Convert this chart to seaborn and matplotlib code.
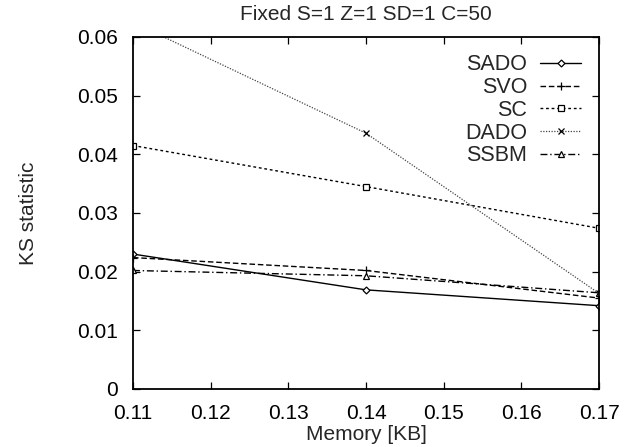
import matplotlib
matplotlib.use("Agg")
import matplotlib.pyplot as plt
import seaborn as sns
import pandas as pd

memory = [0.11, 0.14, 0.17]
sado = [0.0230, 0.0169, 0.0142]
svo = [0.0224, 0.0202, 0.0155]
sc = [0.0415, 0.0345, 0.0274]
dado = [0.0625, 0.0436, 0.0163]
ssbm = [0.0202, 0.0193, 0.0164]
series_names = ["SADO", "SVO", "SC", "DADO", "SSBM"]
x_ticks = [0.11, 0.12, 0.13, 0.14, 0.15, 0.16, 0.17]
x_tick_labels = ["0.11", "0.12", "0.13", "0.14", "0.15", "0.16", "0.17"]
y_ticks = [0, 0.01, 0.02, 0.03, 0.04, 0.05, 0.06]
y_tick_labels = ["0", "0.01", "0.02", "0.03", "0.04", "0.05", "0.06"]

sns.set_style("ticks")
plt.rcParams['font.family'] = ['Liberation Sans', 'DejaVu Sans']

rows = []
for name, vals in zip(series_names, [sado, svo, sc, dado, ssbm]):
    for m, v in zip(memory, vals):
        rows.append({"Memory": m, "KS": v, "Series": name})
df = pd.DataFrame(rows)

styles = {
    "SADO": dict(ls="-", marker="D", ms=3.5, mfc="white", color="black", lw=1.0),
    "SVO": dict(ls=(0, (4, 2)), marker="+", ms=6, mfc="black", color="black", lw=1.0),
    "SC": dict(ls=(0, (2, 2)), marker="s", ms=5, mfc="white", color="black", lw=1.0),
    "DADO": dict(ls=(0, (1, 1.2)), marker="x", ms=5, mfc="black", color="#444444", lw=0.9),
    "SSBM": dict(ls=(0, (5, 2, 1, 2)), marker="^", ms=4.5, mfc="white", color="black", lw=1.0),
}

fig = plt.figure(figsize=(6.34, 4.47), dpi=100)
ax = fig.add_axes([133 / 634, 58 / 447, 466 / 634, 352 / 447])

for name in series_names:
    st = styles[name]
    sub = df[df["Series"] == name]
    sns.lineplot(data=sub, x="Memory", y="KS", ax=ax, label=name,
                 color=st["color"], linestyle=st["ls"], linewidth=st["lw"],
                 marker=st["marker"], markersize=st["ms"],
                 markerfacecolor=st["mfc"], markeredgecolor="black",
                 markeredgewidth=0.9, clip_on=True)

ax.set_xlim(0.11, 0.17)
ax.set_ylim(0, 0.06)
ax.set_xticks(x_ticks)
ax.set_xticklabels(x_tick_labels)
ax.set_yticks(y_ticks)
ax.set_yticklabels(y_tick_labels)
ax.tick_params(direction="in", length=5, width=0.9, top=True, right=True,
               labelsize=15, colors="black")
ax.tick_params(axis="x", pad=11)
ax.tick_params(axis="y", pad=11)
for sp in ax.spines.values():
    sp.set_visible(True)
    sp.set_linewidth(1.3)
    sp.set_color("black")

ax.set_xlabel("Memory [KB]", fontsize=15, labelpad=1)
ax.set_ylabel("KS statistic", fontsize=15, labelpad=28)
ax.set_title("Fixed S=1 Z=1 SD=1 C=50", fontsize=15, pad=12)

leg = ax.legend(loc="upper right", frameon=False, markerfirst=False,
                fontsize=15.5, handlelength=1.9, handletextpad=0.6,
                labelspacing=0.08, borderaxespad=0.0,
                bbox_to_anchor=(0.98, 0.975))

fig.savefig("out.png", dpi=100)
